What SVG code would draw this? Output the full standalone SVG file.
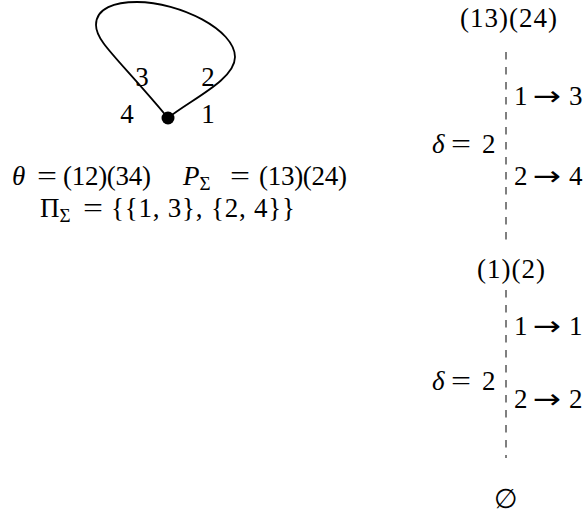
<svg xmlns="http://www.w3.org/2000/svg" width="585" height="521" viewBox="0 0 585 521">
<style>
text { font-family: "Liberation Serif", "DejaVu Serif", serif; font-size: 27px; fill: #000; }
.it { font-style: italic; }
.sub { font-size: 19px; }
.m { text-anchor: middle; }
.arr { font-family: "DejaVu Sans", sans-serif; font-size: 27px; }
.dash { stroke: #000; stroke-width: 1; stroke-dasharray: 7.5 7.5; fill: none; }
</style>
<rect width="585" height="521" fill="#fff"/>
<g id="loop-node">
  <path d="M168,118 C118,58 96,42 96,25 C96,8 115,2 137,2 C180,2 235,30 235,57 C235,80 190,100 168,118" fill="none" stroke="#000" stroke-width="1.8"/>
  <circle cx="168" cy="118" r="6.5" fill="#000"/>
  <text class="m" x="142" y="86">3</text>
  <text class="m" x="208" y="86">2</text>
  <text class="m" x="127" y="123">4</text>
  <text class="m" x="208" y="123">1</text>
</g>
<g id="loop-caption">
  <text class="it" x="12" y="185">θ</text>
  <text x="37" y="185" textLength="20" lengthAdjust="spacingAndGlyphs">=</text>
  <text x="63" y="185" textLength="88">(12)(34)</text>
  <text y="185"><tspan x="183" class="it">P</tspan><tspan class="sub" dy="5">Σ</tspan></text>
  <text x="230" y="185" textLength="20" lengthAdjust="spacingAndGlyphs">=</text>
  <text x="259" y="185" textLength="88">(13)(24)</text>
  <text y="217"><tspan x="40">Π</tspan><tspan class="sub" dy="5">Σ</tspan></text>
  <text x="83" y="217" textLength="20" lengthAdjust="spacingAndGlyphs">=</text>
  <text x="111" y="217" textLength="184">{{1, 3}, {2, 4}}</text>
</g>
<g id="state-13-24">
  <text x="460" y="27" textLength="97">(13)(24)</text>
</g>
<g id="state-1-2">
  <text x="477" y="278" textLength="68">(1)(2)</text>
</g>
<g id="state-empty">
  <text class="m" x="506" y="508">∅</text>
</g>
<g id="connectors">
  <line class="dash" x1="506" y1="52" x2="506" y2="241"/>
  <line class="dash" x1="506" y1="290" x2="506" y2="458"/>
  <g id="edge-label-1">
    <text x="514" y="105">1</text>
    <text class="arr" transform="translate(533,105) scale(1.25,1)">→</text>
    <text x="569" y="105">3</text>
    <text x="514" y="185">2</text>
    <text class="arr" transform="translate(533,185) scale(1.25,1)">→</text>
    <text x="569" y="185">4</text>
    <text class="it" x="432" y="153">δ</text>
    <text x="451" y="153" textLength="20" lengthAdjust="spacingAndGlyphs">=</text>
    <text x="482" y="153">2</text>
  </g>
  <g id="edge-label-2">
    <text x="514" y="335">1</text>
    <text class="arr" transform="translate(533,335) scale(1.25,1)">→</text>
    <text x="569" y="335">1</text>
    <text x="514" y="408">2</text>
    <text class="arr" transform="translate(533,408) scale(1.25,1)">→</text>
    <text x="569" y="408">2</text>
    <text class="it" x="432" y="390">δ</text>
    <text x="451" y="390" textLength="20" lengthAdjust="spacingAndGlyphs">=</text>
    <text x="482" y="390">2</text>
  </g>
</g>
</svg>
